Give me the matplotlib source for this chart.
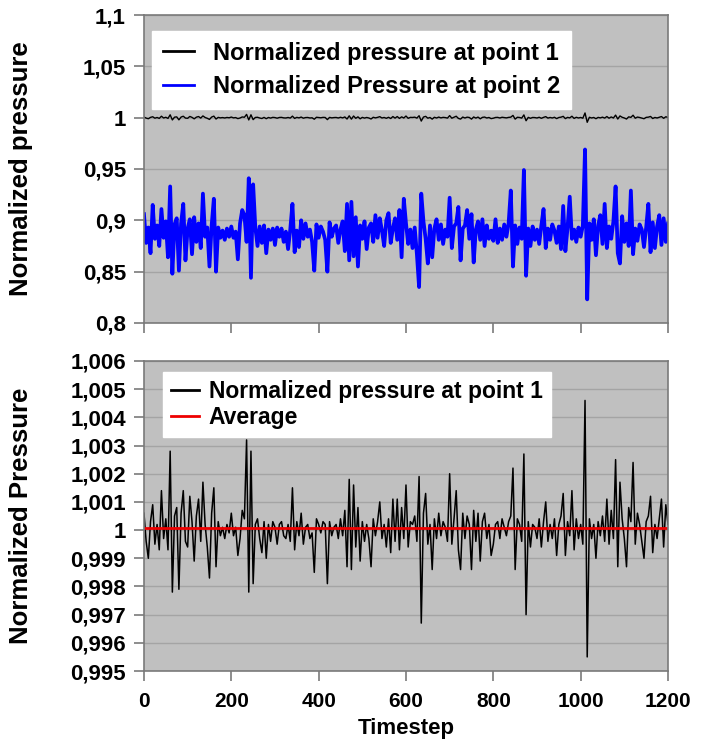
import numpy as np
import matplotlib
matplotlib.use("Agg")
import matplotlib.pyplot as plt
from matplotlib.ticker import FixedLocator, FixedFormatter

plt.rcParams['font.family'] = ['Liberation Sans', 'DejaVu Sans']
plt.rcParams['font.weight'] = 'bold'

# timesteps, read every 5 steps
timestep = list(range(0, 1201, 5))

# point 1: (pressure - 1) in units of 1e-4
p1_dev = [
    6, -4, -10, 3, 9, -5, 2, -7, 14, -3, 4, -7, 28, -22, 5, 8, -21, 6, 14, -4,
    -6, 12, 3, -11, 5, 11, -4, 17, 2, -6, -17, 6, 15, -13, 3, -2, 1, -3, 2, -1,
    6, -2, 1, -9, -3, 7, 4, 32, -22, 28, -19, 2, 4, -3, -8, 3, -10, 2, -4, 3,
    1, -5, 2, 3, -2, -3, 2, -4, 15, -7, 3, -2, 6, -5, 1, 2, -3, -1, -15, 4,
    2, -1, 3, 2, -19, 3, -2, 1, 2, -3, 4, -2, 7, -13, 18, -14, 16, -6, 8, -11,
    3, -4, 2, -3, -13, 4, -2, 3, 10, -3, 2, -6, 4, -8, 11, -4, 11, -7, 8, -3,
    16, -6, 3, 2, 5, -4, 19, -33, 6, 13, -5, 2, -14, 4, -3, 6, -2, 3, 1, -4,
    20, -5, 4, 14, -7, -14, 6, -3, 5, 2, -14, 7, -4, 6, -11, 3, 6, -3, 2, -9,
    -5, 2, 3, -3, 4, 1, -2, 3, 5, 22, -14, 4, 2, -4, 27, -30, 3, -6, 2, 1,
    -3, 4, -6, 3, 10, -4, 2, -3, 4, -9, 2, 5, 13, -9, 3, -2, 14, -7, 4, -3,
    2, -5, 46, -45, 4, -3, 2, -10, 3, -2, 5, -4, 11, -5, 7, -3, 25, -13, 17, 4,
    -3, -13, 8, 3, 24, -5, 6, 2, -4, -10, 3, 5, 12, -8, 2, -3, 4, 11, -6, 9,
    2,
]

# point 2: pressure in units of 1e-3 (baseline ~887)
p2_milli = [
    906, 878, 893, 868, 915, 882, 895, 875, 911, 883, 899, 864, 933, 848, 896, 902, 851, 897, 916, 861,
    892, 901, 867, 903, 879, 897, 873, 926, 884, 893, 855, 895, 921, 850, 893, 883, 890, 881, 892, 884,
    894, 883, 889, 862, 897, 910, 905, 879, 941, 844, 935, 893, 875, 894, 878, 895, 868, 891, 881, 892,
    876, 893, 884, 892, 879, 889, 872, 891, 916, 869, 890, 874, 900, 882, 897, 884, 891, 879, 851, 896,
    883, 894, 889, 881, 850, 898, 884, 892, 895, 878, 891, 899, 870, 916, 861, 918, 865, 903, 855, 895,
    882, 899, 872, 893, 897, 879, 905, 883, 902, 890, 875, 900, 907, 878, 892, 902, 881, 910, 864, 921,
    897, 877, 891, 873, 893, 867, 835, 926, 899, 882, 858, 895, 864, 892, 901, 881, 896, 877, 891, 884,
    922, 873, 894, 897, 913, 861, 892, 895, 910, 882, 906, 859, 891, 899, 881, 901, 875, 895, 882, 890,
    880, 901, 878, 892, 881, 896, 884, 897, 929, 855, 895, 877, 893, 882, 949, 846, 892, 875, 894, 881,
    891, 877, 895, 911, 873, 892, 881, 896, 890, 878, 894, 872, 914, 870, 893, 923, 882, 891, 879, 893,
    884, 895, 969, 823, 897, 881, 901, 866, 895, 905, 877, 916, 873, 894, 882, 899, 933, 868, 858, 904,
    879, 897, 875, 929, 867, 892, 880, 896, 891, 874, 893, 916, 869, 898, 873, 894, 905, 876, 902, 879,
    897,
]

p1 = 1 + np.array(p1_dev) * 1e-4
p2 = np.array(p2_milli) * 1e-3
p1_avg = np.mean(p1)

top_ticks = [0.8, 0.85, 0.9, 0.95, 1.0, 1.05, 1.1]
top_labels = ['0,8', '0,85', '0,9', '0,95', '1', '1,05', '1,1']
bot_ticks = [0.995, 0.996, 0.997, 0.998, 0.999, 1.0, 1.001, 1.002, 1.003, 1.004, 1.005, 1.006]
bot_labels = ['0,995', '0,996', '0,997', '0,998', '0,999', '1',
              '1,001', '1,002', '1,003', '1,004', '1,005', '1,006']
x_ticks = [0, 200, 400, 600, 800, 1000, 1200]

bg = '#c0c0c0'
grid_c = '#a4a4a4'
spine_c = '#7a7a7a'

fig = plt.figure(figsize=(7.12, 7.44), dpi=100)
ax1 = fig.add_axes([0.2022, 0.5659, 0.736, 0.4139])
ax2 = fig.add_axes([0.2022, 0.0981, 0.736, 0.4167])

for ax in (ax1, ax2):
    ax.set_facecolor(bg)
    ax.set_xlim(0, 1200)
    ax.xaxis.set_major_locator(FixedLocator(x_ticks))
    ax.grid(axis='y', color=grid_c, lw=1.0)
    ax.set_axisbelow(True)
    for s in ax.spines.values():
        s.set_color(spine_c)
        s.set_linewidth(1.2)
    ax.tick_params(axis='y', direction='out', length=7, width=1.2, color=spine_c,
                   labelsize=16, pad=6)
    ax.tick_params(axis='x', direction='out', length=7, width=1.2, color=spine_c,
                   labelsize=15, pad=8)
    ax.yaxis.set_label_coords(-0.212, 0.5)

# upper panel
ax1.plot(timestep, p1, color='black', lw=1.0, label='Normalized pressure at point 1')
ax1.plot(timestep, p2, color='#0000ff', lw=2.7, label='Normalized Pressure at point 2')
ax1.set_ylim(0.8, 1.1)
ax1.yaxis.set_major_locator(FixedLocator(top_ticks))
ax1.yaxis.set_major_formatter(FixedFormatter(top_labels))
ax1.tick_params(axis='x', labelbottom=False)
ax1.set_ylabel('Normalized pressure', fontsize=18.5, fontweight='bold')
leg1 = ax1.legend(loc='upper left', bbox_to_anchor=(0.0153, 0.948), borderaxespad=0,
                  fontsize=17, frameon=True, fancybox=False, framealpha=1,
                  edgecolor='white', handlelength=1.35, handletextpad=0.8,
                  borderpad=0.45, labelspacing=0.45)
for line in leg1.get_lines():
    line.set_linewidth(2.0)

# lower panel
ax2.plot(timestep, p1, color='black', lw=1.1, label='Normalized pressure at point 1')
ax2.plot([0, 1200], [p1_avg, p1_avg], color='#ee0000', lw=2.0, label='Average')
ax2.set_ylim(0.995, 1.006)
ax2.yaxis.set_major_locator(FixedLocator(bot_ticks))
ax2.yaxis.set_major_formatter(FixedFormatter(bot_labels))
ax2.set_xlabel('Timestep', fontsize=16, fontweight='bold', labelpad=5)
ax2.set_ylabel('Normalized Pressure', fontsize=18.5, fontweight='bold')
leg2 = ax2.legend(loc='upper left', bbox_to_anchor=(0.036, 0.965), borderaxespad=0,
                  fontsize=16.5, frameon=True, fancybox=False, framealpha=1,
                  edgecolor='white', handlelength=1.25, handletextpad=0.4,
                  borderpad=0.35, labelspacing=0.15)
for line in leg2.get_lines():
    line.set_linewidth(2.0)

fig.savefig('out.png', dpi=100)
